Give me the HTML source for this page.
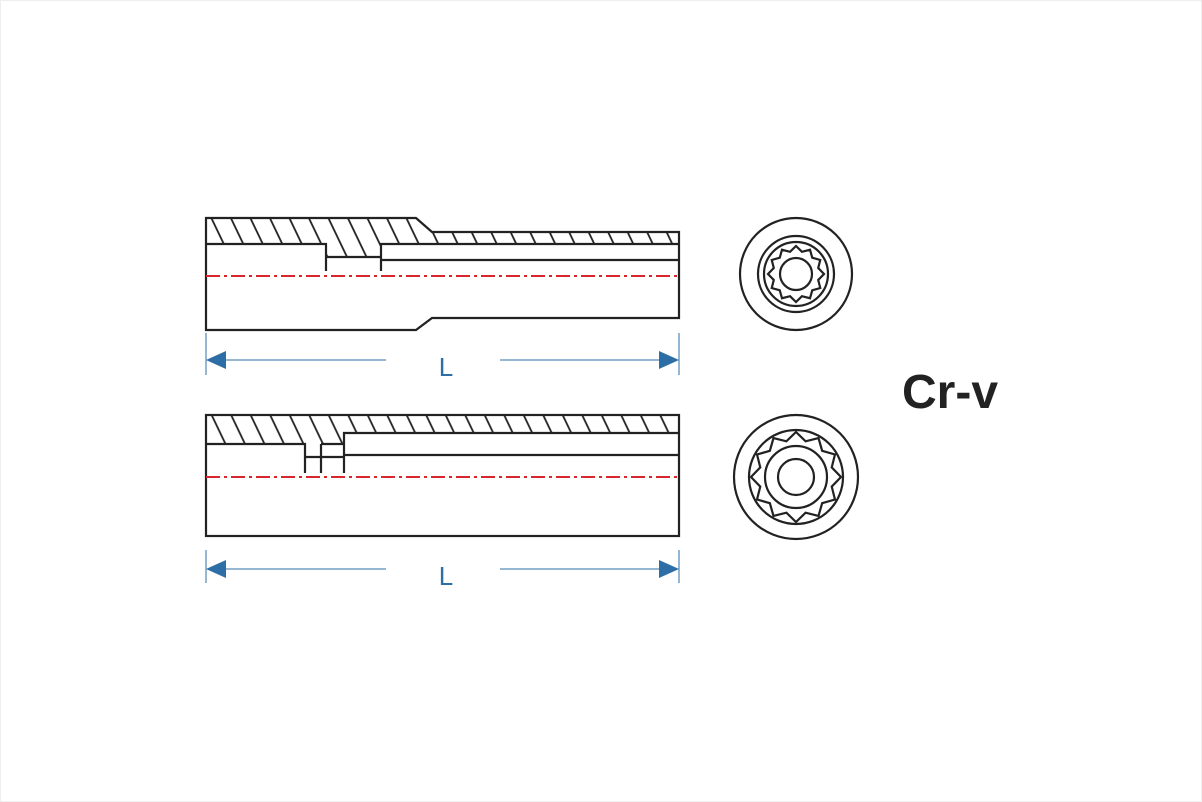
<!DOCTYPE html>
<html><head><style>
html,body{margin:0;padding:0;background:#fff;}
svg{display:block}
</style></head><body>
<svg width="1202" height="802" viewBox="0 0 1202 802" xmlns="http://www.w3.org/2000/svg">
<defs>
<pattern id="h1" patternUnits="userSpaceOnUse" width="19.5" height="200" patternTransform="skewX(25.6)">
<line x1="9.4" y1="0" x2="9.4" y2="200" stroke="#222" stroke-width="2"/></pattern>
<pattern id="h2" patternUnits="userSpaceOnUse" width="19.5" height="200" patternTransform="skewX(25.6)">
<line x1="12.8" y1="0" x2="12.8" y2="200" stroke="#222" stroke-width="2"/></pattern>
</defs>
<rect x="0.5" y="0.5" width="1201" height="801" fill="#fff" stroke="#eee"/>
<g fill="none" stroke="#222" stroke-width="2.2">
<!-- top socket -->
<polygon points="206,218 416,218 432,232 679,232 679,244 381,244 381,257 326,257 326,244 206,244" fill="url(#h1)" stroke="none"/>
<polygon points="206,218 416,218 432,232 679,232 679,318 432,318 416,330 206,330"/>
<polyline points="206,244 326,244 326,271"/>
<line x1="326" y1="257" x2="381" y2="257"/>
<polyline points="381,271 381,244 679,244"/>
<line x1="381" y1="260" x2="679" y2="260"/>
<!-- bottom socket -->
<polygon points="206,415 679,415 679,433 344,433 344,444 206,444" fill="url(#h2)" stroke="none"/>
<rect x="206" y="415" width="473" height="121"/>
<polyline points="206,444 305,444 305,473"/>
<line x1="321" y1="444" x2="321" y2="473"/>
<line x1="321" y1="444" x2="344" y2="444"/>
<line x1="305" y1="457" x2="344" y2="457"/>
<polyline points="344,473 344,433 679,433"/>
<line x1="344" y1="455" x2="679" y2="455"/>
<!-- end views -->
<circle cx="796" cy="274" r="56"/>
<circle cx="796" cy="274" r="38"/>
<circle cx="796" cy="274" r="32"/>
<polygon points="796,246 801.96,251.8 810,249.75 812.26,257.74 820.25,260 818.22,268.04 824,274 818.22,279.96 820.25,288 812.26,290.26 810,298.25 801.96,296.2 796,302 790.04,296.2 782,298.25 779.74,290.26 771.75,288 773.78,279.96 768,274 773.78,268.04 771.75,260 779.74,257.74 782,249.75 790.04,251.8"/>
<circle cx="796" cy="274" r="16"/>
<circle cx="796" cy="477" r="62"/>
<circle cx="796" cy="477" r="47"/>
<polygon points="796,432 805.58,441.26 818.5,438.03 822.16,450.84 834.97,454.5 831.74,467.42 841,477 831.74,486.58 834.97,499.5 822.16,503.16 818.5,515.97 805.58,512.74 796,522 786.42,512.74 773.5,515.97 769.84,503.16 757.03,499.5 760.26,486.58 751,477 760.26,467.42 757.03,454.5 769.84,450.84 773.5,438.03 786.42,441.26"/>
<circle cx="796" cy="477" r="31"/>
<circle cx="796" cy="477" r="18"/>
</g>
<!-- centerlines -->
<g stroke="#d8262c" stroke-width="2" stroke-dasharray="14,4,3,4">
<line x1="206" y1="276" x2="679" y2="276"/>
<line x1="206" y1="477" x2="679" y2="477"/>
</g>
<!-- dimensions -->
<g stroke="#2e6ea6" stroke-width="1">
<line x1="206" y1="333" x2="206" y2="375"/><line x1="679" y1="333" x2="679" y2="375"/>
<line x1="220" y1="360" x2="386" y2="360"/><line x1="500" y1="360" x2="665" y2="360"/>
<line x1="206" y1="550" x2="206" y2="583"/><line x1="679" y1="550" x2="679" y2="583"/>
<line x1="220" y1="569" x2="386" y2="569"/><line x1="500" y1="569" x2="665" y2="569"/>
</g>
<g fill="#2e6ea6">
<polygon points="206,360 226,351 226,369"/><polygon points="679,360 659,351 659,369"/>
<polygon points="206,569 226,560 226,578"/><polygon points="679,569 659,560 659,578"/>
</g>
<g font-family="Liberation Sans, sans-serif" font-size="26" fill="#2e6ea6" text-anchor="middle">
<text x="446" y="376">L</text>
<text x="446" y="585">L</text>
</g>
<text x="902" y="408" font-family="Liberation Sans, sans-serif" font-weight="bold" font-size="48" fill="#222">Cr-v</text>
</svg>
</body></html>
